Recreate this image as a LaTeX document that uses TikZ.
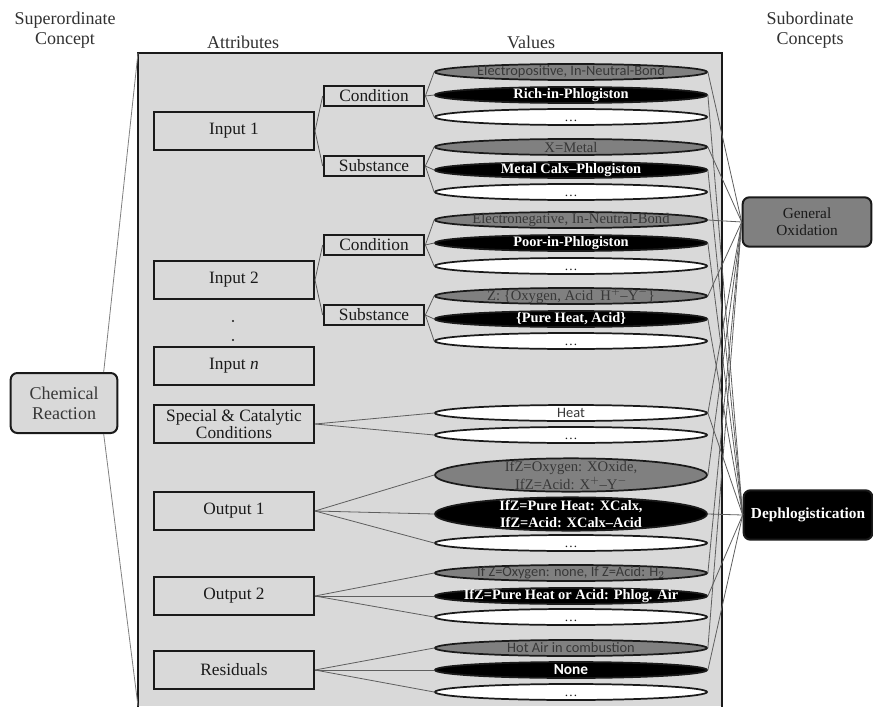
\documentclass[tikz,border=0pt]{standalone}
\usepackage{fontspec}
\setmainfont{Liberation Serif}
\newfontfamily\calib{Carlito}
\usetikzlibrary{shapes.geometric}
\definecolor{ink}{HTML}{1A1A1A}
\definecolor{pale}{HTML}{D9D9D9}
\definecolor{mid}{HTML}{808080}
\definecolor{dim}{HTML}{383838}
\definecolor{wire}{HTML}{5E5E5E}

\begin{document}
\begin{tikzpicture}[x=0.75pt,y=-0.75pt,
 head/.style={font=\fontsize{13.5}{15}\selectfont,text=ink!90,align=center},
 attr/.style={draw=ink,line width=1.5pt,fill=pale,minimum width=120pt,minimum height=28pt,inner sep=1pt,align=center,font=\fontsize{13}{12}\selectfont,text=ink},
 part/.style={attr,minimum width=75.5pt,minimum height=15.5pt},
 val/.style={ellipse,draw=ink,line width=1.3pt,minimum width=204pt,minimum height=12pt,inner sep=0pt},
 vg/.style={val,fill=mid}, vb/.style={val,fill=black}, vw/.style={val,fill=white},
 vg2/.style={vg,minimum height=25pt}, vb2/.style={vb,minimum height=25pt},
 gs/.style={font=\calib\fontsize{10.8}{11}\selectfont,text=dim},
 gr/.style={font=\fontsize{11}{13.5}\selectfont,text=dim,align=center},
 br/.style={font=\bfseries\fontsize{10.8}{12.8}\selectfont,text=white,align=center},
 bs/.style={font=\calib\bfseries\fontsize{11.5}{11}\selectfont,text=white},
 dots/.style={font=\fontsize{10}{11}\selectfont,text=ink,text height=7pt},
 wire/.style={draw=wire,line width=0.6pt},
 concept/.style={draw=ink,line width=1.5pt,rounded corners=5pt,minimum width=96.5pt,minimum height=37pt,align=center,font=\fontsize{11.5}{13}\selectfont}
]
\useasboundingbox (0,0) rectangle (873,706);

% headings
\node[head] (tsup) at (65,30) {Superordinate\\Concept};
\node[head] (tatt) at (243,42) {Attributes};
\node[head] (tval) at (531,42) {Values};
\node[head] (tsub) at (810,30) {Subordinate\\Concepts};

% frame of the concept
\fill[pale] (138,53) rectangle (722,706);
\draw[ink,line width=1.6pt] (138,712) -- (138,53) -- (722,53) -- (722,712);
\coordinate (ftop) at (138,53);
\coordinate (fbot) at (138,706);

\node[concept,fill=pale,minimum width=80pt,minimum height=45pt,font=\fontsize{13.5}{15}\selectfont,text=dim] (chem) at (64,403) {Chemical\\Reaction};
\draw[wire,draw=mid] (chem.38) -- (ftop);
\draw[wire,draw=mid] (chem.-38) -- (fbot);

% attributes
\node[attr] (in1) at (234,131) {Input 1};
\node[part] (con1) at (374,96) {Condition};
\node[part] (sub1) at (374,166) {Substance};
\node[attr] (in2) at (234,280) {Input 2};
\node[part] (con2) at (374,245) {Condition};
\node[part] (sub2) at (374,315) {Substance};
\fill[ink] (233,321) circle (1.2) (233,340) circle (1.2);
\node[attr] (inn) at (234,366) {Input \textit{n}};
\node[attr,font=\fontsize{13}{13}\selectfont] (spec) at (234,424) {Special \& Catalytic\\Conditions};
\node[attr] (out1) at (234,511) {Output 1};
\node[attr] (out2) at (234,596) {Output 2};
\node[attr] (res) at (234,670) {Residuals};

% values
\foreach \nm/\y/\shp/\ts/\txt in {
 c1a/72/vg/gs/{Electropositive, In-Neutral-Bond},
 c1b/95/vb/br/Rich-in-Phlogiston,
 c1c/117/vw/dots/\ldots,
 s1a/147/vg/gr/X=Metal,
 s1b/170/vb/br/Metal Calx--Phlogiston,
 s1c/192/vw/dots/\ldots,
 c2a/220/vg/gr/{Electronegative, In-Neutral-Bond},
 c2b/243/vb/br/Poor-in-Phlogiston,
 c2c/266/vw/dots/\ldots,
 s2a/296/vg/gr/{Z: \{Oxygen, Acid\ \ H$^+$--Y$^-$\}},
 s2b/319/vb/br/{\{Pure Heat, Acid\}},
 s2c/341/vw/dots/\ldots,
 sca/413/vw/gs/Heat,
 scb/435/vw/dots/\ldots,
 o1a/475/vg2/gr/{IfZ=Oxygen: XOxide,\\IfZ=Acid: X$^+$--Y$^-$},
 o1b/514/vb2/br/{IfZ=Pure Heat: XCalx,\\IfZ=Acid: XCalx--Acid},
 o1c/543/vw/dots/\ldots,
 o2a/573/vg/gs/{If Z=Oxygen: none, If Z=Acid: H$_2$},
 o2b/596/vb/br/IfZ=Pure Heat or Acid: Phlog. Air,
 o2c/617/vw/dots/\ldots,
 ra/648/vg/gs/Hot Air in combustion,
 rb/670/vb/bs/None,
 rc/692/vw/dots/\ldots} {
 \node[\shp] (\nm) at (571,\y) {};
 \node[inner sep=0pt,\ts] (t\nm) at (\nm) {\txt};
}

\foreach \a/\b in {in1/con1,in1/sub1,in2/con2,in2/sub2}
 \draw[wire] (\a.east) -- (\b.west);
\foreach \a/\b in {con1/c1,sub1/s1,con2/c2,sub2/s2,out1/o1,out2/o2,res/r}
 \foreach \k in {a,b,c}
  \draw[wire] (\a.east) -- (\b\k.west);
\foreach \k in {a,b}
 \draw[wire] (spec.east) -- (sc\k.west);

% subordinate concepts
\node[concept,fill=mid,text=ink] (genox) at (807,222) {General\\Oxidation};
\node[concept,fill=black,text=white,font=\bfseries\fontsize{11.5}{13}\selectfont] (deph) at (808,515) {Dephlogistication};
\foreach \v in {c1a,s1a,c2a,s2a,sca,o1a,o2a,ra}
 \draw[wire] (\v.east) -- (genox.west);
\foreach \v in {c1b,s1b,c2b,s2b,sca,o1b,o2b,rb}
 \draw[wire] (\v.east) -- (deph.west);
\end{tikzpicture}
\end{document}
